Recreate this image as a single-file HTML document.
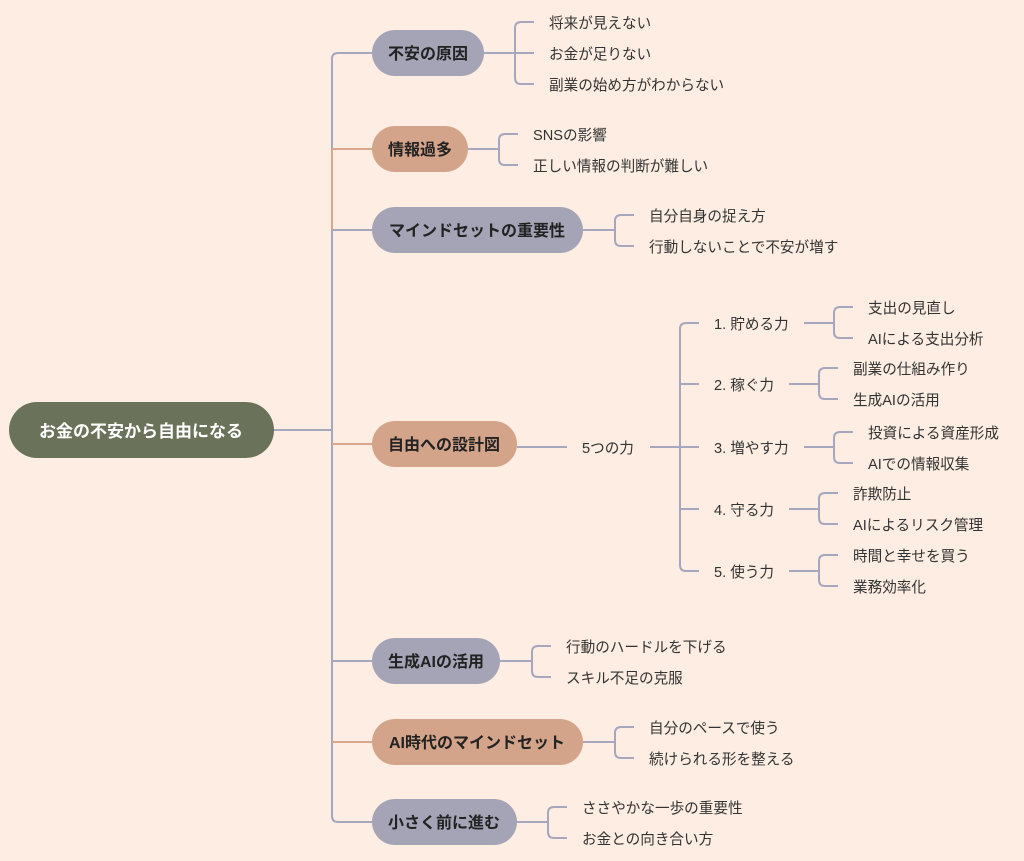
<!DOCTYPE html>
<html><head><meta charset="utf-8"><style>
html,body{margin:0;padding:0;background:#fdede2;}
svg{display:block;font-family:"Liberation Sans","Noto Sans CJK JP",sans-serif;}
.l{fill:none;stroke:#a6a7bd;stroke-width:2;}
.o{fill:none;stroke:#d8a78c;stroke-width:2;}
.t{font-size:14.6px;fill:#333;}
.n{font-size:16px;font-weight:bold;fill:#222;text-anchor:middle;}
</style></head><body>
<svg width="1024" height="861" viewBox="0 0 1024 861">
<path class="l" d="M274 430 H332"/>
<path class="l" d="M372 53 H338 Q332 53 332 59 V816 Q332 822 338 822 H372"/>
<path class="l" d="M332 230 H372 M332 661 H372"/>
<path class="o" d="M332 149 H372 M332 444 H372 M332 742 H372 M332 149 V230"/>
<rect x="9" y="402" width="265" height="56" rx="28" fill="#6a735a"/>
<text x="141" y="437" font-size="17" font-weight="bold" fill="#fff" text-anchor="middle">お金の不安から自由になる</text>
<rect x="372" y="30" width="112" height="46" rx="23" fill="#a4a4b6"/><text class="n" x="428" y="59">不安の原因</text>
<rect x="372" y="126" width="96" height="46" rx="23" fill="#d4a48a"/><text class="n" x="420" y="155">情報過多</text>
<rect x="372" y="207" width="211" height="46" rx="23" fill="#a4a4b6"/><text class="n" x="477" y="236">マインドセットの重要性</text>
<rect x="372" y="421" width="145" height="46" rx="23" fill="#d4a48a"/><text class="n" x="444" y="450">自由への設計図</text>
<rect x="372" y="638" width="128" height="46" rx="23" fill="#a4a4b6"/><text class="n" x="436" y="667">生成AIの活用</text>
<rect x="372" y="719" width="211" height="46" rx="23" fill="#d4a48a"/><text class="n" x="477" y="748">AI時代のマインドセット</text>
<rect x="372" y="799" width="145" height="46" rx="23" fill="#a4a4b6"/><text class="n" x="444" y="828">小さく前に進む</text>
<path class="l" d="M484 53 H515 M515 53 H534 M534 22 H521 Q515 22 515 28 V78 Q515 84 521 84 H534"/>
<text class="t" x="549" y="28">将来が見えない</text><text class="t" x="549" y="59">お金が足りない</text><text class="t" x="549" y="90">副業の始め方がわからない</text>
<path class="l" d="M468 149 H499 M518 134 H505 Q499 134 499 140 V159 Q499 165 505 165 H518"/>
<text class="t" x="533" y="140">SNSの影響</text><text class="t" x="533" y="171">正しい情報の判断が難しい</text>
<path class="l" d="M583 230 H615 M634 215 H621 Q615 215 615 221 V240 Q615 246 621 246 H634"/>
<text class="t" x="649" y="221">自分自身の捉え方</text><text class="t" x="649" y="252">行動しないことで不安が増す</text>
<path class="l" d="M517 447 H567 M650 447 H699 M699 323 H686 Q680 323 680 329 V565 Q680 571 686 571 H699 M680 384 H699 M680 509 H699"/>
<text class="t" x="582" y="453">5つの力</text>
<text class="t" x="714" y="329">1. 貯める力</text>
<text class="t" x="714" y="390">2. 稼ぐ力</text>
<text class="t" x="714" y="453">3. 増やす力</text>
<text class="t" x="714" y="515">4. 守る力</text>
<text class="t" x="714" y="577">5. 使う力</text>
<path class="l" d="M804 323 H834 M853 307 H840 Q834 307 834 313 V332 Q834 338 840 338 H853"/>
<text class="t" x="868" y="313">支出の見直し</text><text class="t" x="868" y="344">AIによる支出分析</text>
<path class="l" d="M789 384 H819 M838 368 H825 Q819 368 819 374 V393 Q819 399 825 399 H838"/>
<text class="t" x="853" y="374">副業の仕組み作り</text><text class="t" x="853" y="405">生成AIの活用</text>
<path class="l" d="M804 447 H834 M853 432 H840 Q834 432 834 438 V457 Q834 463 840 463 H853"/>
<text class="t" x="868" y="438">投資による資産形成</text><text class="t" x="868" y="469">AIでの情報収集</text>
<path class="l" d="M789 509 H819 M838 493 H825 Q819 493 819 499 V518 Q819 524 825 524 H838"/>
<text class="t" x="853" y="499">詐欺防止</text><text class="t" x="853" y="530">AIによるリスク管理</text>
<path class="l" d="M789 571 H819 M838 555 H825 Q819 555 819 561 V580 Q819 586 825 586 H838"/>
<text class="t" x="853" y="561">時間と幸せを買う</text><text class="t" x="853" y="592">業務効率化</text>
<path class="l" d="M500 661 H532 M551 646 H538 Q532 646 532 652 V671 Q532 677 538 677 H551"/>
<text class="t" x="566" y="652">行動のハードルを下げる</text><text class="t" x="566" y="683">スキル不足の克服</text>
<path class="l" d="M583 742 H615 M634 727 H621 Q615 727 615 733 V752 Q615 758 621 758 H634"/>
<text class="t" x="649" y="733">自分のペースで使う</text><text class="t" x="649" y="764">続けられる形を整える</text>
<path class="l" d="M517 822 H548 M567 807 H554 Q548 807 548 813 V832 Q548 838 554 838 H567"/>
<text class="t" x="582" y="813">ささやかな一歩の重要性</text><text class="t" x="582" y="844">お金との向き合い方</text>
</svg>
</body></html>
